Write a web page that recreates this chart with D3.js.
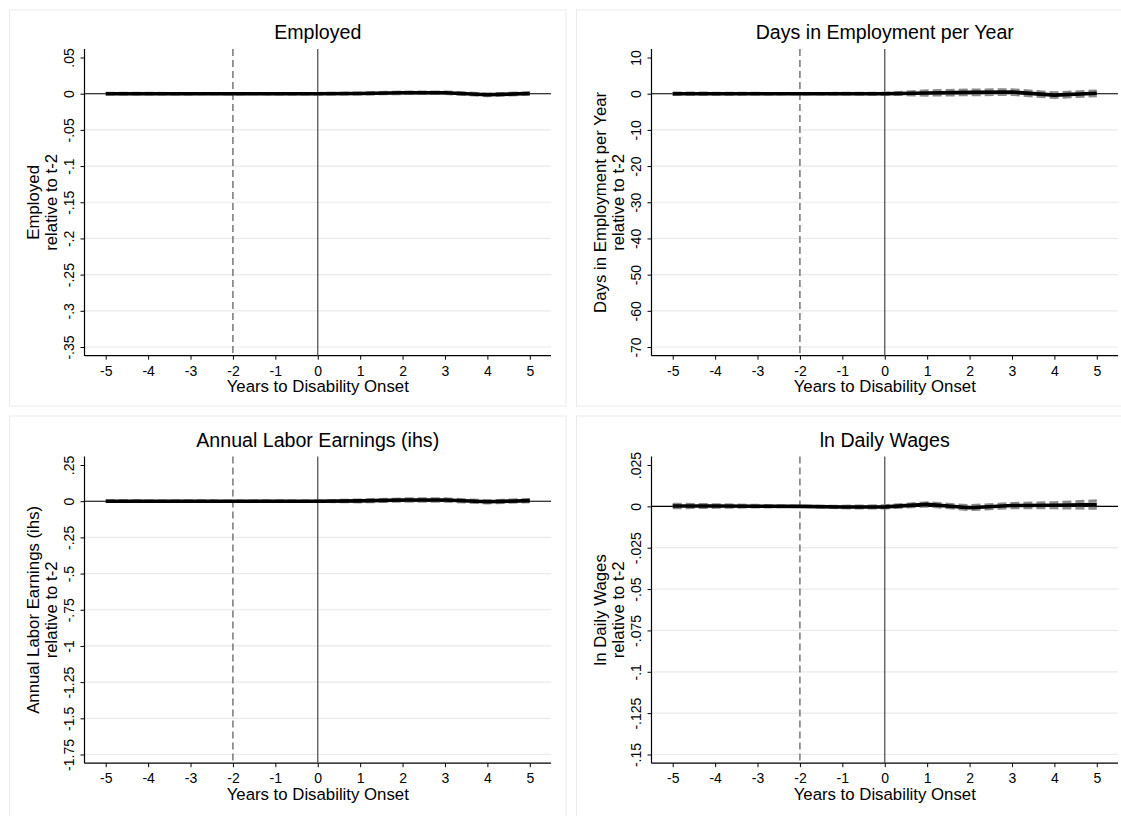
<!DOCTYPE html>
<html><head><meta charset="utf-8">
<script src="https://cdn.jsdelivr.net/npm/d3@7"></script>
<style>
html,body{margin:0;padding:0;background:#fff;}
svg{display:block;font-family:"Liberation Sans",Arial,Helvetica,sans-serif;}
</style></head>
<body><svg id="c" width="1121" height="816"></svg>
<script>
// ---------------- data ----------------
const years = [-5,-4,-3,-2,-1,0,1,2,3,4,5];
const xTicks = [-5,-4,-3,-2,-1,0,1,2,3,4,5];
const xLabels = ["-5","-4","-3","-2","-1","0","1","2","3","4","5"];

const titles = ["Employed","Days in Employment per Year","Annual Labor Earnings (ihs)","ln Daily Wages"];

const employedEst = [0,0,0,0,0,0,0.0003,0.0012,0.0012,-0.0015,0.0002];
const employedLo  = [-0.0006,-0.0005,-0.0003,0,-0.0003,-0.0004,-0.0005,0.0001,0.0001,-0.0027,-0.0009];
const employedHi  = [0.0006,0.0005,0.0003,0,0.0003,0.0004,0.0011,0.0023,0.0023,-0.0003,0.0013];
const employedTicks = [0.05,0,-0.05,-0.1,-0.15,-0.2,-0.25,-0.3,-0.35];
const employedLabels = [".05","0","-.05","-.1","-.15","-.2","-.25","-.3","-.35"];

const daysEst = [0,0,0,0,0,0,0.2,0.35,0.45,-0.4,0.1];
const daysLo  = [-0.2,-0.15,-0.1,0,-0.1,-0.15,-0.4,-0.3,-0.2,-1.05,-0.55];
const daysHi  = [0.2,0.15,0.1,0,0.1,0.15,0.8,1.0,1.1,0.25,0.75];
const daysTicks = [10,0,-10,-20,-30,-40,-50,-60,-70];
const daysLabels = ["10","0","-10","-20","-30","-40","-50","-60","-70"];

const earnEst = [0,0,0,0,0,0,0.002,0.008,0.008,-0.004,0.004];
const earnLo  = [-0.003,-0.002,-0.001,0,-0.001,-0.002,-0.005,0.0,0.0,-0.012,-0.004];
const earnHi  = [0.003,0.002,0.001,0,0.001,0.002,0.009,0.016,0.016,0.004,0.012];
const earnTicks = [0.25,0,-0.25,-0.5,-0.75,-1,-1.25,-1.5,-1.75];
const earnLabels = [".25","0","-.25","-.5","-.75","-1","-1.25","-1.5","-1.75"];

const wageEst = [0.0002,0.0002,0.0001,0,-0.0004,-0.0003,0.0012,-0.0008,0.0005,0.0007,0.0011];
const wageLo  = [-0.0009,-0.0006,-0.0004,0,-0.0009,-0.001,0.0002,-0.002,-0.0008,-0.0009,-0.0012];
const wageHi  = [0.0013,0.001,0.0006,0,0.0001,0.0004,0.0022,0.0004,0.0018,0.0022,0.0034];
const wageTicks = [0.025,0,-0.025,-0.05,-0.075,-0.1,-0.125,-0.15];
const wageLabels = [".025","0","-.025","-.05","-.075","-.1","-.125","-.15"];

const yTitle2 = "relative to t-2";
const xTitle = "Years to Disability Onset";
// --------------------------------------

const panels = [
  {title:titles[0], est:employedEst, lo:employedLo, hi:employedHi, ticks:employedTicks, labels:employedLabels, ox:0, oy:0},
  {title:titles[1], est:daysEst, lo:daysLo, hi:daysHi, ticks:daysTicks, labels:daysLabels, ox:567, oy:0},
  {title:titles[2], est:earnEst, lo:earnLo, hi:earnHi, ticks:earnTicks, labels:earnLabels, ox:0, oy:407.5},
  {title:titles[3], est:wageEst, lo:wageLo, hi:wageHi, ticks:wageTicks, labels:wageLabels, ox:567, oy:407.5}
];

const svg = d3.select("#c");
const FONT_TICK = 14, FONT_AX = 16.8, FONT_TITLE = 19.6;

panels.forEach((p,i) => {
  const g = svg.append("g").attr("transform",`translate(${p.ox},${p.oy})`);
  // panel outline (graph region)
  const top = i < 2 ? 10 : 8.5;
  const h = i < 2 ? 406 - top : 420 - top;
  g.append("rect").attr("x",9.5).attr("y",top).attr("width",556.5).attr("height",h)
    .attr("fill","none").attr("stroke","#ebebeb").attr("stroke-width",1);

  const L = 84.5, R = 551, T = 49, B = 355.7;
  const x = d3.scaleLinear().domain([-5.5,5.5]).range([L,R]);
  const y = d3.scaleLinear().domain([p.ticks[0], p.ticks[p.ticks.length-1]]).range([57.5,347]);

  // gridlines
  g.append("g").selectAll("line").data(p.ticks.slice(1)).join("line")
    .attr("x1",L).attr("x2",R).attr("y1",d=>y(d)).attr("y2",d=>y(d))
    .attr("stroke","#eaeaea").attr("stroke-width",1.2);

  // y axis
  const ya = g.append("g").attr("transform",`translate(${L},0)`)
    .call(d3.axisLeft(y).tickValues(p.ticks).tickFormat((d,k)=>p.labels[k]).tickSize(4).tickSizeOuter(0));
  ya.select(".domain").remove();
  ya.selectAll(".tick line").attr("stroke","#000");
  ya.selectAll(".tick text").attr("font-size",FONT_TICK).attr("fill","#000")
    .attr("font-family","'Liberation Sans',Arial,sans-serif")
    .attr("transform","rotate(-90)").attr("text-anchor","middle")
    .attr("x",0).attr("y",-10.5).attr("dy",0);
  g.append("line").attr("x1",L).attr("x2",L).attr("y1",T).attr("y2",B).attr("stroke","#000").attr("stroke-width",1.2);

  // x axis
  const xa = g.append("g").attr("transform",`translate(0,${B})`)
    .call(d3.axisBottom(x).tickValues(xTicks).tickFormat((d,k)=>xLabels[k]).tickSize(4).tickSizeOuter(0));
  xa.select(".domain").remove();
  xa.selectAll(".tick line").attr("stroke","#000");
  xa.selectAll(".tick text").attr("font-size",FONT_TICK).attr("fill","#000")
    .attr("font-family","'Liberation Sans',Arial,sans-serif")
    .attr("y",20).attr("dy",0);
  g.append("line").attr("x1",L).attr("x2",R).attr("y1",B).attr("y2",B).attr("stroke","#000").attr("stroke-width",1.2);

  // reference lines
  g.append("line").attr("x1",L).attr("x2",R).attr("y1",y(0)).attr("y2",y(0)).attr("stroke","#000").attr("stroke-width",1.1);
  g.append("line").attr("x1",x(-2)).attr("x2",x(-2)).attr("y1",T).attr("y2",B)
    .attr("stroke","#555").attr("stroke-width",1.2).attr("stroke-dasharray","7,4");
  g.append("line").attr("x1",x(0)).attr("x2",x(0)).attr("y1",T).attr("y2",B)
    .attr("stroke","#555").attr("stroke-width",1.3);

  // CIs (beneath) + estimate
  const line = d3.line().x((d,k)=>x(years[k])).y(d=>y(d));
  [p.hi,p.lo].forEach(arr=>{
    g.append("path").datum(arr).attr("d",line).attr("fill","none")
      .attr("stroke","#8c8c8c").attr("stroke-width",3).attr("stroke-dasharray","9,4");
  });
  g.append("path").datum(p.est).attr("d",line).attr("fill","none")
    .attr("stroke","#000").attr("stroke-width",3.6).attr("stroke-linejoin","round");

  // titles
  g.append("text").attr("x",(L+R)/2).attr("y",39).attr("text-anchor","middle")
    .attr("font-size",FONT_TITLE).attr("fill","#000").text(p.title);
  g.append("text").attr("x",(L+R)/2).attr("y",392).attr("text-anchor","middle")
    .attr("font-size",FONT_AX).attr("fill","#000").text(xTitle);
  const cy = (T+B)/2;
  g.append("text").attr("transform",`translate(38.6,${cy}) rotate(-90)`).attr("text-anchor","middle")
    .attr("font-size",FONT_AX).attr("fill","#000").text(p.title);
  g.append("text").attr("transform",`translate(56.5,${cy}) rotate(-90)`).attr("text-anchor","middle")
    .attr("font-size",FONT_AX).attr("fill","#000").text(yTitle2);
});
</script></body></html>
